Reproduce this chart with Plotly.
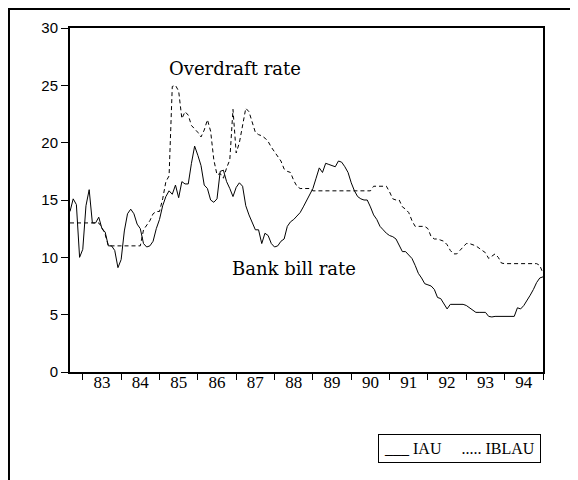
import plotly.graph_objects as go

# monthly observations, 1982M08 .. 1994M12
start_year = 1982
start_month = 8

# IAU: bank bill rate (solid)
iau = [
    14.0, 15.1, 14.6, 10.0, 10.7, 14.5, 15.9, 13.0, 13.0, 13.5,
    12.5, 12.2, 11.0, 11.0, 10.6, 9.1, 9.8, 12.3, 13.8, 14.2,
    13.8, 12.9, 12.5, 11.2, 10.9, 11.0, 11.4, 12.5, 13.3, 14.5,
    15.3, 15.8, 15.5, 16.3, 15.2, 16.6, 16.4, 16.4, 18.2, 19.7,
    18.9, 18.0, 16.3, 16.0, 15.0, 14.8, 15.1, 17.5, 17.6, 16.6,
    16.0, 15.3, 16.1, 16.5, 16.2, 14.5, 13.7, 13.1, 12.4, 12.4,
    11.2, 12.1, 11.9, 11.2, 10.9, 11.0, 11.4, 11.6, 12.7, 13.1,
    13.3, 13.6, 13.9, 14.4, 14.9, 15.5, 16.0, 16.9, 17.8, 17.4,
    18.2, 18.1, 18.0, 17.9, 18.4, 18.3, 17.9, 17.4, 16.5, 15.8,
    15.3, 15.1, 15.0, 15.0, 14.4, 13.7, 13.3, 12.7, 12.4, 12.1,
    11.9, 11.8, 11.6, 11.1, 10.5, 10.5, 10.2, 9.9, 9.3, 8.6,
    8.2, 7.7, 7.6, 7.5, 7.2, 6.5, 6.4, 6.0, 5.5, 5.9,
    5.9, 5.85, 5.9, 5.9, 5.8, 5.6, 5.35, 5.2, 5.2, 5.2,
    5.2, 4.85, 4.8, 4.85, 4.85, 4.9, 4.9, 4.85, 4.9, 4.85,
    5.6, 5.5, 5.8, 6.2, 6.7, 7.2, 7.8, 8.2, 8.3,
]

# IBLAU: overdraft rate (dashed)
iblau = [
    13.0, 13.0, 13.0, 13.0, 13.0, 13.0, 13.0, 13.0, 13.0, 13.0,
    12.6, 12.0, 11.0, 11.0, 11.0, 11.0, 11.0, 11.0, 11.0, 11.0,
    11.0, 11.0, 11.0, 12.4, 12.8, 13.2, 13.8, 14.0, 14.0, 15.1,
    16.6, 17.1, 24.9, 25.0, 24.5, 22.1, 22.7, 22.4, 21.5, 21.2,
    20.9, 20.5, 21.1, 22.0, 21.0, 18.5, 17.2, 17.3, 16.9, 17.8,
    18.5, 22.9, 19.1, 20.0, 21.6, 23.0, 22.7, 21.7, 20.9, 20.7,
    20.6, 20.4, 20.1, 19.6, 19.2, 18.9, 18.4, 17.7, 17.5, 17.4,
    16.7, 16.2, 16.0, 16.0, 16.0, 16.0, 15.8, 15.8, 15.8, 15.8,
    15.8, 15.8, 15.8, 15.8, 15.8, 15.8, 15.8, 15.8, 15.8, 15.8,
    15.8, 15.8, 15.8, 15.8, 15.8, 16.2, 16.2, 16.2, 16.2, 16.2,
    15.7, 15.1, 15.0, 15.0, 14.4, 14.2, 13.9, 13.2, 12.7, 12.7,
    12.7, 12.7, 12.5, 11.8, 11.6, 11.6, 11.5, 11.4, 11.1, 10.6,
    10.3, 10.3, 10.6, 10.9, 11.2, 11.2, 11.1, 11.0, 10.8, 10.6,
    10.4, 9.9, 10.1, 10.3, 10.0, 9.5, 9.45, 9.45, 9.45, 9.45,
    9.45, 9.45, 9.45, 9.45, 9.45, 9.45, 9.45, 9.3, 8.6,
]

years = list(range(1983, 1995))
year_labels = [str(y)[2:] for y in years]

# decimal-year position of each month (end of month)
x = [start_year + (start_month + i) / 12 for i in range(len(iau))]

fig = go.Figure()
fig.add_trace(go.Scatter(x=x, y=iau, mode="lines", name="IAU",
                         line=dict(color="black", width=1)))
fig.add_trace(go.Scatter(x=x, y=iblau, mode="lines", name="IBLAU",
                         line=dict(color="black", width=1, dash="4px,3px")))

serif = "Liberation Serif"
label_font = dict(family="DejaVu Serif", size=18, color="black")

fig.add_annotation(x=1986.97, y=26.5, text="Overdraft rate", showarrow=False,
                   font=label_font)
fig.add_annotation(x=1988.51, y=9.0, text="Bank bill rate", showarrow=False,
                   font=label_font)

# legend drawn as a boxed text line, like the original
fig.add_annotation(xref="paper", yref="paper", x=0.9958, y=-0.221,
                   xanchor="right", yanchor="middle", showarrow=False,
                   text="___ IAU     ..... IBLAU",
                   font=dict(family=serif, size=16, color="black"),
                   bordercolor="black", borderwidth=1, borderpad=5,
                   bgcolor="white")

# outer page frame (only left and top edges fall inside the picture)
fig.add_shape(type="rect", xref="paper", yref="paper",
              x0=-0.129, x1=1.3, y0=-0.6, y1=1.0552,
              line=dict(color="black", width=2), layer="above")

# the page body adds an 8px offset, so margins are 8px smaller than the picture
fig.update_layout(
    width=578, height=480,
    margin=dict(l=62, r=43, t=20, b=116),
    paper_bgcolor="white", plot_bgcolor="white",
    showlegend=False,
    xaxis=dict(
        range=[x[0], x[-1]],
        tickmode="array", tickvals=[y + 0.5 for y in years], ticktext=year_labels,
        ticks="", showgrid=False, zeroline=False, ticklabelstandoff=-6,
        showline=True, linecolor="black", linewidth=2, mirror=True,
        tickfont=dict(family=serif, size=17, color="black"),
        minor=dict(tickmode="linear", tick0=1983, dtick=1, ticks="outside",
                   ticklen=6, tickwidth=1, tickcolor="black", showgrid=False),
    ),
    yaxis=dict(
        range=[0, 30], tickmode="linear", tick0=0, dtick=5,
        ticks="outside", ticklen=7, tickwidth=1, tickcolor="black",
        showgrid=False, zeroline=False,
        showline=True, linecolor="black", linewidth=2, mirror=True,
        tickfont=dict(family="Liberation Sans", size=15, color="black"),
    ),
)

fig.write_html("out.html")
